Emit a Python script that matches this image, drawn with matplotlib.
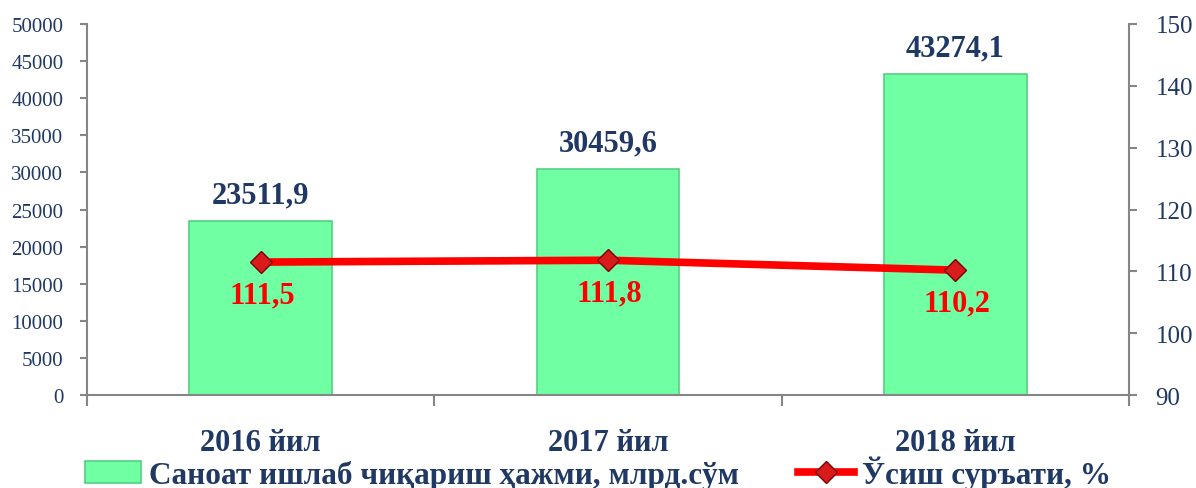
import matplotlib
matplotlib.use("Agg")
import matplotlib.pyplot as plt
from matplotlib.lines import Line2D
from matplotlib.patches import Patch

categories = ["2016 йил", "2017 йил", "2018 йил"]
volume = [23511.9, 30459.6, 43274.1]
growth = [111.5, 111.8, 110.2]
volume_labels = ["23511,9", "30459,6", "43274,1"]
growth_labels = ["111,5", "111,8", "110,2"]
series_names = ["Саноат ишлаб чиқариш ҳажми, млрд.сўм", "Ўсиш суръати, %"]

FONT = ["Liberation Serif", "DejaVu Serif"]
plt.rcParams["font.family"] = FONT
NAVY = "#1F3864"
GRAY = "#868686"
GREEN = "#70FFA2"
RED = "#FF0000"

fig = plt.figure(figsize=(11.96, 4.89), dpi=100)
ax = fig.add_axes([0.0727, 0.190, 0.944 - 0.0727, 0.949 - 0.190])
ax2 = ax.twinx()

x = list(range(len(categories)))
bars = ax.bar(x, volume, width=0.41, color=GREEN, edgecolor="#55CF82", linewidth=1.2, zorder=2)
ax.set_xlim(-0.5, len(categories) - 0.5)
ax.set_ylim(0, 50000)
ax.set_yticks(range(0, 50001, 5000))

for xi, v, lab in zip(x, volume, volume_labels):
    ax.annotate(lab, (xi, v), xytext=(0, 8), textcoords="offset points",
                ha="center", va="bottom", fontsize=22, fontweight="bold", color=NAVY)

ax2.plot(x, growth, color=RED, linewidth=5.5, solid_capstyle="round", zorder=3)
ax2.plot(x, growth, linestyle="none", marker="D", markersize=11,
         markerfacecolor="#D81C1C", markeredgecolor="#7A0000", markeredgewidth=1.0, zorder=4)
ax2.set_ylim(90, 150)
ax2.set_yticks(range(90, 151, 10))
for xi, v, lab in zip(x, growth, growth_labels):
    ax2.annotate(lab, (xi, v), xytext=(1, -13), textcoords="offset points",
                 ha="center", va="top", fontsize=22, fontweight="bold", color=RED)

for a in (ax, ax2):
    a.spines["top"].set_visible(False)
    for s in ("left", "right", "bottom"):
        a.spines[s].set_color(GRAY)
        a.spines[s].set_linewidth(1.5)
ax2.set_zorder(ax.get_zorder() + 1)
ax2.patch.set_visible(False)

ax.spines["right"].set_visible(False)
ax2.spines["left"].set_visible(False)
ax2.spines["bottom"].set_visible(False)

ax.tick_params(axis="y", colors=GRAY, labelcolor=NAVY, labelsize=15, length=5, width=1.5, pad=12, direction="out")
ax2.tick_params(axis="y", colors=GRAY, labelcolor=NAVY, labelsize=18, length=6, width=1.5, pad=13, direction="out")

# category boundaries (major) and centres (minor, labelled)
ax.set_xticks([-0.5, 0.5, 1.5, 2.5])
ax.set_xticklabels([])
ax.set_xticks(x, minor=True)
ax.set_xticklabels(categories, minor=True)
ax.tick_params(axis="x", which="major", colors=GRAY, length=8, width=1.5, direction="out")
ax.tick_params(axis="x", which="minor", colors=GRAY, labelcolor=NAVY, length=6, width=1.5,
               direction="in", pad=24, labelsize=22)
for t in ax.get_xticklabels(minor=True):
    t.set_fontweight("bold")

handles = [
    Patch(facecolor=GREEN, edgecolor="#55CF82", linewidth=1.2),
    Line2D([0], [0], color=RED, linewidth=5.5, marker="D", markersize=11,
           markerfacecolor="#D81C1C", markeredgecolor="#7A0000"),
]
leg = fig.legend(handles, series_names, loc="center", bbox_to_anchor=(0.5, 0.032), ncol=2,
                 frameon=False, handlelength=1.8, handletextpad=0.25, columnspacing=1.9,
                 prop={"family": FONT, "size": 22.5, "weight": "bold"})
for t in leg.get_texts():
    t.set_color(NAVY)

fig.savefig("out.png", dpi=100)
